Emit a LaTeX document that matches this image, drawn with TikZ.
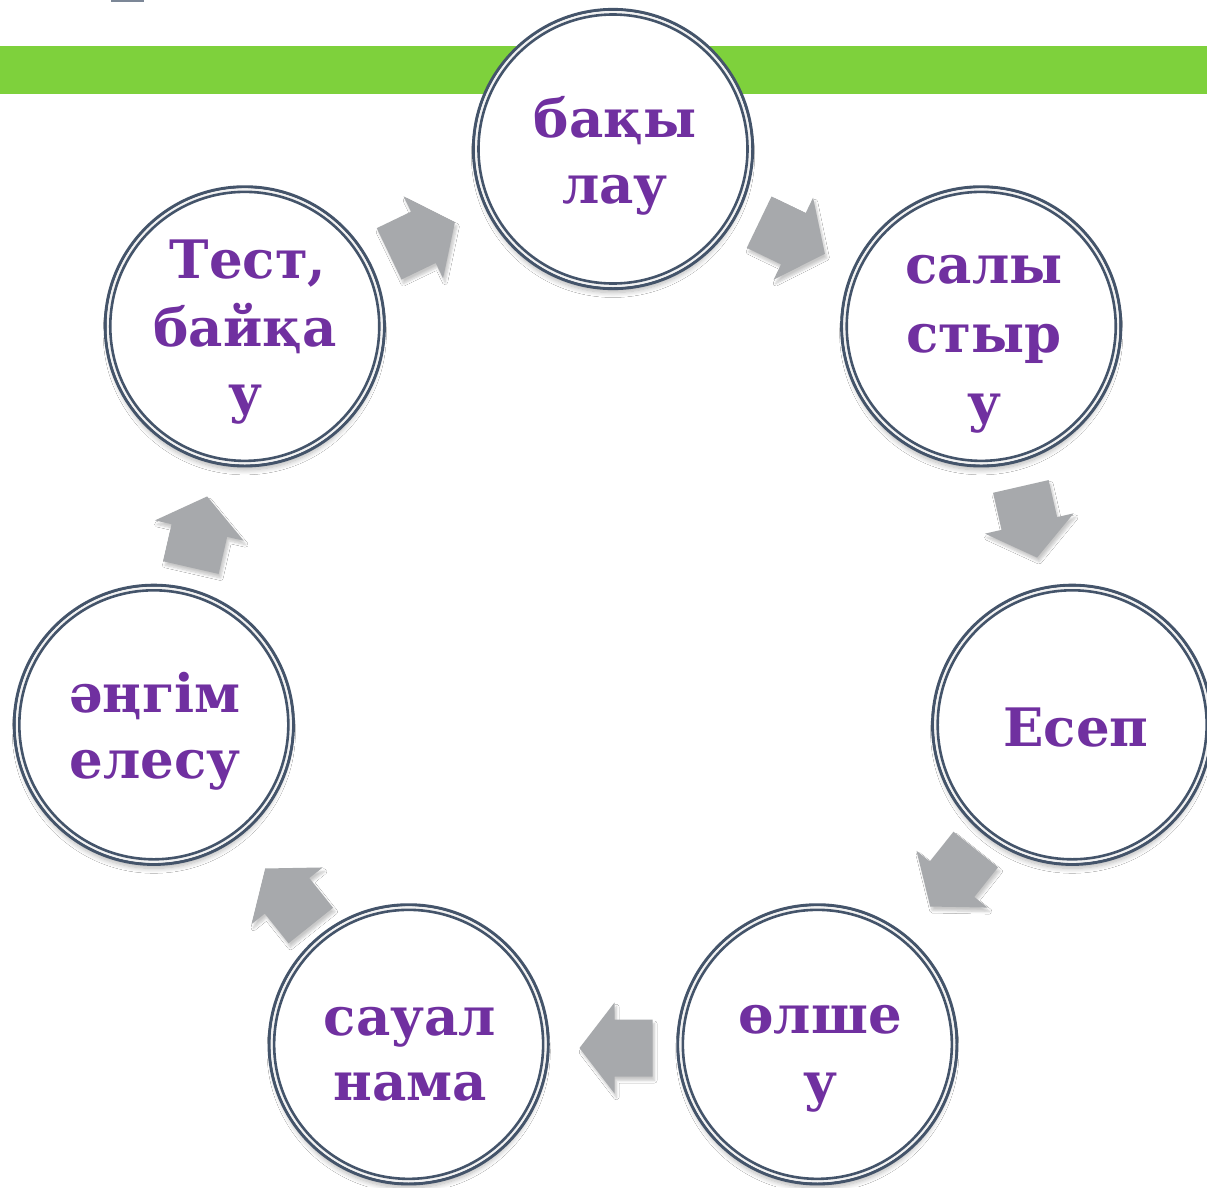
\documentclass[tikz,border=0pt]{standalone}
\usepackage{fontspec}
\setmainfont{DejaVu Serif}
\usetikzlibrary{shadows.blur}
\definecolor{ringc}{HTML}{44546A}
\definecolor{txtc}{HTML}{7030A0}
\definecolor{barc}{HTML}{7ED13C}
\definecolor{arrc}{HTML}{A7A9AC}
\begin{document}
\begin{tikzpicture}[x=1pt,y=-1pt,
  bubble/.style={circle, minimum size=279pt, inner sep=0pt, fill=white, draw=ringc, line width=3.2pt,
    blur shadow={shadow xshift=0pt, shadow yshift=-7pt, shadow scale=0.98, shadow blur radius=5pt, shadow blur steps=8, shadow opacity=28}},
  innerring/.style={draw=ringc, line width=2.6pt},
  gapring/.style={draw=gray!10, line width=2.2pt},
  lbl/.style={anchor=base, text=txtc, font=\bfseries\fontsize{53}{66}\selectfont, inner sep=0pt},
  barrow/.style={fill=arrc, blur shadow={shadow xshift=2pt, shadow yshift=-4pt, shadow blur radius=2.5pt, shadow blur steps=6, shadow opacity=22}}
]
\useasboundingbox (0,0) rectangle (1207,1187);
\clip (0,0) rectangle (1207,1187);
\fill[white] (0,0) rectangle (1207,1187);
\fill[ringc!70] (111,0) rectangle (144,1.5);
\fill[barc] (0,46) rectangle (1207,94);
% arrows
\foreach \i/\px/\py/\ang in {0/792/238/25.7, 1/1029/522/77.1, 2/953/878/128.6, 3/616/1048/180, 4/288/897/231.4, 5/199/532/282.9, 6/422/238/334.3} {
  \coordinate (a\i) at (\px,\py);
  \fill[barrow, shift={(a\i)}, rotate=-\ang] (-36.5,-28.5) -- (1.5,-28.5) -- (1.5,-45.5) -- (36.5,0) -- (1.5,45.5) -- (1.5,28.5) -- (-36.5,28.5) -- cycle;
}
% circles
\foreach \k in {0,...,6} {
  \node[bubble] (n\k) at ({613+471*sin(\k*360/7)},{620-471*cos(\k*360/7)}) {};
  \draw[gapring] (n\k.center) circle (136.9pt);
  \draw[innerring] (n\k.center) circle (134.5pt);
}
% labels
\node[lbl] (l0a) at (615,137) {бақы};
\node[lbl] (l0b) at (615,203) {лау};
\node[lbl] (l1a) at (984,283) {салы};
\node[lbl] (l1b) at (984,352) {стыр};
\node[lbl] (l1c) at (984,421) {у};
\node[lbl] (l2a) at (1076,746) {Есеп};
\node[lbl] (l3a) at (820,1033) {өлше};
\node[lbl] (l3b) at (820,1100) {у};
\node[lbl] (l4a) at (410,1035) {сауал};
\node[lbl] (l4b) at (410,1100) {нама};
\node[lbl] (l5a) at (155,712) {әңгім};
\node[lbl] (l5b) at (155,778) {елесу};
\node[lbl] (l6a) at (248,278) {Тест,};
\node[lbl] (l6b) at (245,346) {байқа};
\node[lbl] (l6c) at (245,412) {у};
\end{tikzpicture}
\end{document}
